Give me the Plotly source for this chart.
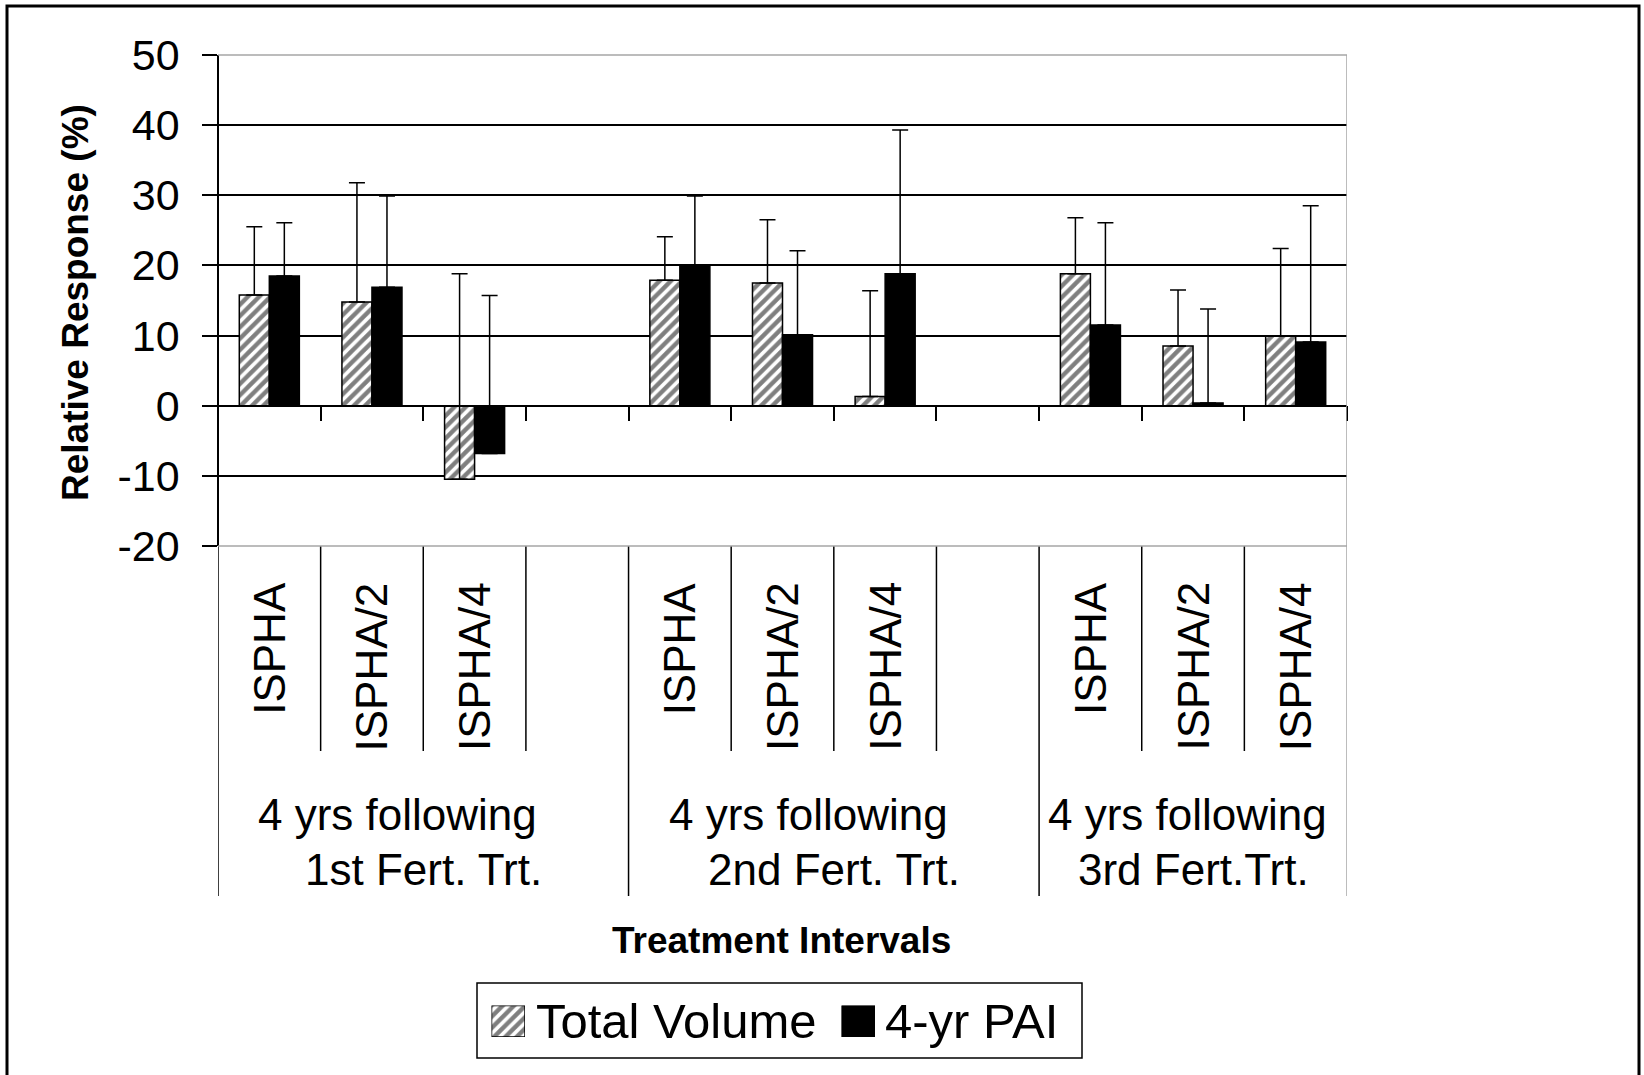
import plotly.graph_objects as go

# ---------------- data ----------------
group_line1 = ["4 yrs following", "4 yrs following", "4 yrs following"]
group_line2 = ["1st Fert. Trt.", "2nd Fert. Trt.", "3rd Fert.Trt."]
treatments = ["ISPHA", "ISPHA/2", "ISPHA/4"]

total_volume = [15.8, 14.8, -10.5, 17.9, 17.5, 1.3, 18.8, 8.5, 9.9]
total_volume_err = [9.7, 17.0, 29.3, 6.2, 9.0, 15.1, 8.0, 8.0, 12.5]
pai = [18.5, 16.9, -6.8, 20.1, 10.1, 18.8, 11.5, 0.4, 9.1]
pai_err = [7.6, 13.0, 22.5, 9.8, 12.0, 20.5, 14.6, 13.4, 19.4]

y_ticks = [-20, -10, 0, 10, 20, 30, 40, 50]
y_ticktext = [str(v) for v in y_ticks]
series_names = ["Total Volume", "4-yr PAI"]
x_title = "Treatment Intervals"
y_title = "Relative Response (%)"

# ---------------- layout geometry (pixels of the 1644x1075 page) ----------------
W, H = 1644, 1075
L, R, T, B = 218, 1347, 55, 546
FONT = "Liberation Sans, Arial, sans-serif"

def pxx(px):
    return px / W

def pxy(py):
    return 1 - py / H

n_groups = len(group_line1)
n_treat = len(treatments)
slots = n_treat + 1  # blank slot between groups
xpos = [g * slots + i for g in range(n_groups) for i in range(n_treat)]
x_min = -0.5
x_max = (n_groups - 1) * slots + n_treat - 0.5
ymin, ymax = min(y_ticks), max(y_ticks)

hatch = dict(shape="/", fgcolor="black", bgcolor="white", size=8, solidity=0.55)

fig = go.Figure()
fig.add_trace(go.Bar(
    x=xpos, y=total_volume, name=series_names[0],
    marker=dict(color="white", line=dict(color="black", width=1.5), pattern=hatch),
    error_y=dict(type="data", array=total_volume_err,
                 arrayminus=[0] * len(total_volume_err), symmetric=False,
                 color="black", thickness=1.5, width=8),
))
fig.add_trace(go.Bar(
    x=xpos, y=pai, name=series_names[1],
    marker=dict(color="black", line=dict(color="black", width=1.5)),
    error_y=dict(type="data", array=pai_err,
                 arrayminus=[0] * len(pai_err), symmetric=False,
                 color="black", thickness=1.5, width=8),
))

# legend keys (drawn as small bars on their own tiny axes)
fig.add_trace(go.Bar(x=[0.5], y=[1], width=[1], name=series_names[0], xaxis="x2", yaxis="y2",
                     marker=dict(color="white", line=dict(color="black", width=1.5), pattern=hatch),
                     showlegend=False, hoverinfo="skip"))
fig.add_trace(go.Bar(x=[0.5], y=[1], width=[1], name=series_names[1], xaxis="x3", yaxis="y3",
                     marker=dict(color="black", line=dict(color="black", width=1.5)),
                     showlegend=False, hoverinfo="skip"))

boundaries = [x_min + k for k in range(1, int(x_max - x_min) + 1)]

shapes = []
GRAY = "#a6a6a6"
y_bot = pxy(B)
y_top = pxy(T)
y_short = pxy(751)
y_long = pxy(896)
for g in range(n_groups):
    start = g * slots - 0.5
    span = slots if g < n_groups - 1 else n_treat
    for k in range(1, span):
        shapes.append(dict(type="line", xref="x", yref="paper", x0=start + k, x1=start + k,
                           y0=y_bot, y1=y_short, line=dict(color="black", width=1.5)))
    end = start + span
    last = g == n_groups - 1
    shapes.append(dict(type="line", xref="x", yref="paper", x0=end, x1=end,
                       y0=y_top if last else y_bot, y1=y_long,
                       line=dict(color=GRAY if last else "black", width=1.5)))
shapes.append(dict(type="line", xref="x", yref="paper", x0=x_min, x1=x_min, y0=y_bot, y1=y_long,
                   line=dict(color="black", width=1.5)))
for yy in (y_bot, y_top):
    shapes.append(dict(type="line", xref="paper", yref="paper", x0=pxx(L), x1=pxx(R), y0=yy, y1=yy,
                       line=dict(color=GRAY, width=1.5)))
# legend box
shapes.append(dict(type="rect", xref="paper", yref="paper",
                   x0=pxx(477), x1=pxx(1082), y0=pxy(983), y1=pxy(1058),
                   line=dict(color="black", width=1.5), fillcolor="rgba(0,0,0,0)"))
# outer frame
shapes.append(dict(type="rect", xref="paper", yref="paper",
                   x0=pxx(7), x1=pxx(1639), y0=pxy(6), y1=pxy(1100),
                   line=dict(color="black", width=3)))

annotations = []
for i, xp in enumerate(xpos):
    annotations.append(dict(x=xp, xref="x", y=pxy(580), yref="paper", text=treatments[i % n_treat],
                            textangle=-90, showarrow=False, xanchor="center", yanchor="top",
                            font=dict(family=FONT, size=44, color="black")))
line1_shift = [-26, -25, -6]
for g in range(n_groups):
    start = g * slots - 0.5
    span = slots if g < n_groups - 1 else n_treat
    cx = start + span / 2
    annotations.append(dict(x=cx, xref="x", y=pxy(814), yref="paper", text=group_line1[g],
                            xshift=line1_shift[g], showarrow=False, xanchor="center", yanchor="middle",
                            font=dict(family=FONT, size=44, color="black")))
    annotations.append(dict(x=cx, xref="x", y=pxy(869), yref="paper", text=group_line2[g],
                            showarrow=False, xanchor="center", yanchor="middle",
                            font=dict(family=FONT, size=44, color="black")))
annotations.append(dict(x=pxx(781), xref="paper", y=pxy(940), yref="paper", text="<b>" + x_title + "</b>",
                        showarrow=False, xanchor="center", yanchor="middle",
                        font=dict(family=FONT, size=37, color="black")))
annotations.append(dict(x=pxx(75), xref="paper", y=pxy(303), yref="paper", text="<b>" + y_title + "</b>",
                        textangle=-90, showarrow=False, xanchor="center", yanchor="middle",
                        font=dict(family=FONT, size=37, color="black")))
# legend texts
annotations.append(dict(x=pxx(534), xref="paper", y=pxy(1021), yref="paper", text=series_names[0],
                        showarrow=False, xanchor="left", yanchor="middle",
                        font=dict(family=FONT, size=49, color="black")))
annotations.append(dict(x=pxx(883), xref="paper", y=pxy(1021), yref="paper", text=series_names[1],
                        showarrow=False, xanchor="left", yanchor="middle",
                        font=dict(family=FONT, size=49, color="black")))

hidden = dict(range=[0, 1], visible=False, fixedrange=True, automargin=False)

fig.update_layout(
    width=W, height=H, autosize=False,
    margin=dict(l=0, r=0, t=0, b=0, pad=0, autoexpand=False),
    paper_bgcolor="white", plot_bgcolor="white",
    barmode="group", bargap=0.415, bargroupgap=0,
    font=dict(family=FONT, color="black"),
    showlegend=False,
    xaxis=dict(domain=[pxx(L), pxx(R)], range=[x_min, x_max], anchor="free",
               position=y_bot + (0 - ymin) / (ymax - ymin) * (y_top - y_bot),
               showline=True, linecolor="black", linewidth=1.5,
               ticks="outside", tickvals=boundaries, ticklen=15, tickwidth=1.5, tickcolor="black",
               showticklabels=False, showgrid=False, zeroline=False, fixedrange=True,
               automargin=False),
    yaxis=dict(domain=[y_bot, y_top], anchor="free", position=pxx(L),
               range=[ymin, ymax], tickvals=y_ticks, ticktext=y_ticktext,
               showgrid=True, gridcolor="black", gridwidth=1.5,
               zeroline=False, showline=True, linecolor="black", linewidth=1.5,
               ticks="outside", ticklen=15, tickwidth=1.5, tickcolor="black",
               tickfont=dict(family=FONT, size=43, color="black"), ticklabelstandoff=14,
               fixedrange=True, automargin=False),
    xaxis2=dict(domain=[pxx(491.5), pxx(525)], anchor="y2", **hidden),
    yaxis2=dict(domain=[pxy(1037), pxy(1005.5)], anchor="x2", **hidden),
    xaxis3=dict(domain=[pxx(841.5), pxx(875)], anchor="y3", **hidden),
    yaxis3=dict(domain=[pxy(1037), pxy(1005.5)], anchor="x3", **hidden),
    shapes=shapes, annotations=annotations,
)

fig.write_html("out.html", config=dict(displayModeBar=False),
               post_script="document.body.style.margin='0';document.body.style.overflow='hidden';")
